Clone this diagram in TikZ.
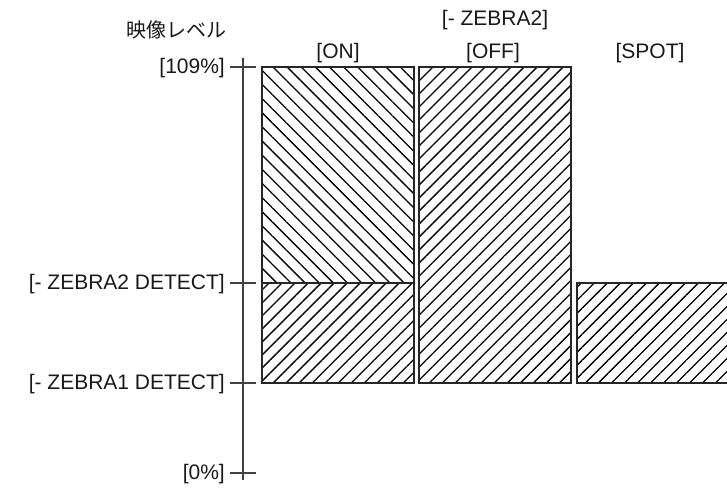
\documentclass[tikz,border=0pt]{standalone}
\usepackage{fontspec}
\setmainfont{Liberation Sans}
\newfontfamily\jpfont{Noto Sans CJK JP}
\usetikzlibrary{patterns.meta}

\begin{document}
\begin{tikzpicture}[x=1pt, y=1pt,
  bar/.style={draw=black!85, line width=2.4pt},
  fwd/.style={pattern={Lines[angle=45, distance=9.2pt, line width=1.3pt]}},
  bwd/.style={pattern={Lines[angle=-45, distance=10pt, line width=1.3pt]}},
  lbl/.style={font=\fontsize{21}{24}\selectfont, inner sep=0pt, text=black!90}]
  % level axis
  \coordinate (axtop) at (243,429);
  \coordinate (axbot) at (243,7);
  \draw[black!75, line width=1.1pt] (axtop) -- (axbot);
  \node[lbl, font=\fontsize{20}{24}\selectfont] (title) at (176,457) {\jpfont 映像レベル};
  \foreach \y/\name/\txt in {420/p109/{[109\%]}, 204/z2/{[- ZEBRA2 DETECT]},
                            104/z1/{[- ZEBRA1 DETECT]}, 14/p0/{[0\%]}} {
    \coordinate (\name) at (243,\y);
    \node[lbl, anchor=east] (\name-txt) at (225,\y-1) {\txt};
    \draw[black!75, line width=1.1pt] ([xshift=-13pt]\name) -- ([xshift=13pt]\name);
  }
  % bars
  \draw[bar, bwd] (262,204) rectangle (414,420);
  \draw[bar, fwd] (262,104) rectangle (414,204);
  \draw[bar, fwd] (419,104) rectangle (571,420);
  \draw[bar, fwd] (577,104) rectangle (731,204);
  % modes
  \node[lbl] (zebra2) at (495,467) {[- ZEBRA2]};
  \node[lbl] (on) at (338,434) {[ON]};
  \node[lbl] (off) at (493,434) {[OFF]};
  \node[lbl] (spot) at (650,434) {[SPOT]};
  \pgfresetboundingbox
  \useasboundingbox (0,0) rectangle (727,487);
\end{tikzpicture}
\end{document}
